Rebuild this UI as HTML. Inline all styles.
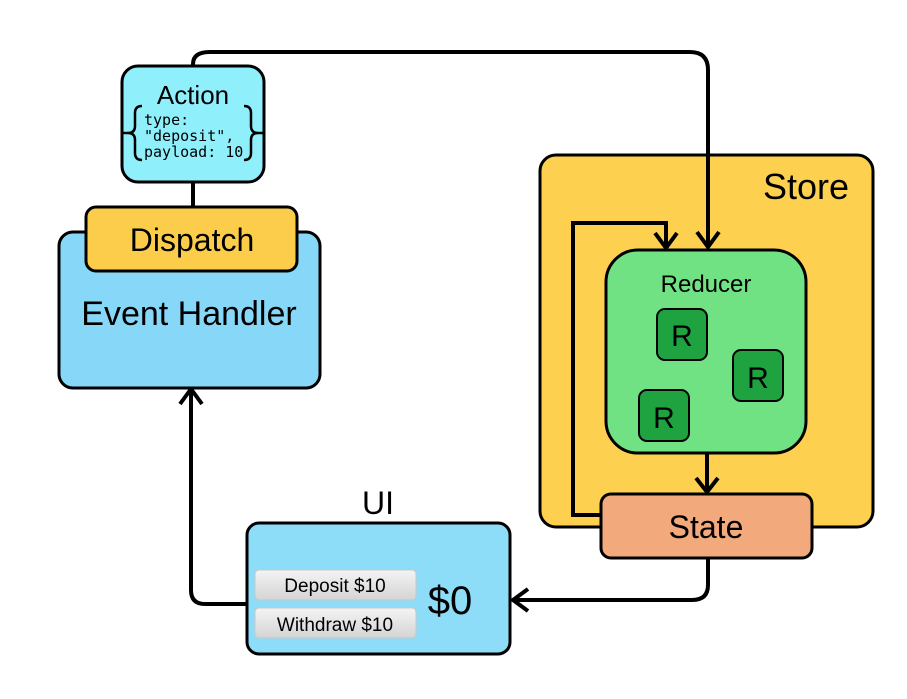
<!DOCTYPE html>
<html><head><style>body{margin:0;background:#fff}svg{display:block}text{font-family:"Liberation Sans",sans-serif}text.m{font-family:"DejaVu Sans Mono","Liberation Mono",monospace}</style></head><body>
<svg width="907" height="699" viewBox="0 0 907 699" xmlns="http://www.w3.org/2000/svg">
<g fill="none" stroke="#000" stroke-width="4">
<path d="M193 182 V208"/>
<path d="M247 604 H205 Q191 604 191 590 V390"/>
<path d="M180 404 L191 389 L202 404"/>
</g>
<rect x="540" y="155" width="333" height="372" rx="16" fill="#fdd14f" stroke="#000" stroke-width="3"/>
<text x="806" y="199" font-size="36" text-anchor="middle">Store</text>
<g fill="none" stroke="#000" stroke-width="4">
<path d="M193 66 V64 Q193 52 210 52 H690 Q708 52 708 70 V246"/>
<path d="M697 232 L708 247 L719 232"/>
<path d="M602 515 H573 V223 H666 V248"/>
<path d="M655 233 L666 248 L677 233"/>
<path d="M707 452 V492"/>
<path d="M696 478 L707 492 L718 478"/>
<path d="M708 558 V585 Q708 600 692 600 H514"/>
<path d="M528 589 L513 600 L528 611"/>
</g>
<rect x="606" y="250" width="200" height="203" rx="32" fill="#71e283" stroke="#000" stroke-width="3"/>
<text x="706" y="292" font-size="24" text-anchor="middle">Reducer</text>
<g fill="#1fa340" stroke="#000" stroke-width="2">
<rect x="657" y="309" width="50" height="51" rx="8"/>
<rect x="733" y="350" width="50" height="51" rx="8"/>
<rect x="639" y="390" width="50" height="51" rx="8"/>
</g>
<g font-size="30" text-anchor="middle">
<text x="682" y="346">R</text><text x="758" y="388">R</text><text x="664" y="428">R</text>
</g>
<rect x="601" y="494" width="211" height="64" rx="10" fill="#f2a97c" stroke="#000" stroke-width="3"/>
<text x="706" y="538" font-size="32" text-anchor="middle">State</text>
<rect x="59" y="232" width="261" height="156" rx="14" fill="#87d8f8" stroke="#000" stroke-width="3"/>
<text x="189" y="325" font-size="34" text-anchor="middle">Event Handler</text>
<rect x="86" y="207" width="211" height="64" rx="10" fill="#fccd4b" stroke="#000" stroke-width="3"/>
<text x="192" y="251" font-size="32" text-anchor="middle">Dispatch</text>
<rect x="122" y="66" width="142" height="116" rx="16" fill="#8ff0fb" stroke="#000" stroke-width="3"/>
<text x="193" y="104" font-size="26" text-anchor="middle">Action</text>
<g font-size="15"><text class="m" x="144" y="125">type:</text><text class="m" x="144" y="141">"deposit",</text><text class="m" x="144" y="157">payload: 10</text></g>
<g fill="none" stroke="#000" stroke-width="2.5">
<path d="M142 106 Q135 106 135 113 V126 Q135 133 128 133 Q135 133 135 140 V153 Q135 160 142 160"/>
<path d="M244 106 Q251 106 251 113 V126 Q251 133 258 133 Q251 133 251 140 V153 Q251 160 244 160"/>
<path d="M122 133 H128 M258 133 H264"/>
</g>
<text x="378" y="514" font-size="32" text-anchor="middle">UI</text>
<rect x="247" y="523" width="263" height="131" rx="12" fill="#8ddcf8" stroke="#000" stroke-width="3"/>
<defs><linearGradient id="g" x1="0" y1="0" x2="0" y2="1"><stop offset="0" stop-color="#f4f4f4"/><stop offset="1" stop-color="#d4d4d4"/></linearGradient></defs>
<rect x="255" y="570" width="161" height="30" rx="4" fill="url(#g)" stroke="#c8c8c8"/>
<rect x="255" y="608" width="161" height="30" rx="4" fill="url(#g)" stroke="#c8c8c8"/>
<text x="335" y="592" font-size="19" text-anchor="middle">Deposit $10</text>
<text x="335" y="631" font-size="19" text-anchor="middle">Withdraw $10</text>
<text x="450" y="614" font-size="40" text-anchor="middle">$0</text>
</svg>
</body></html>
